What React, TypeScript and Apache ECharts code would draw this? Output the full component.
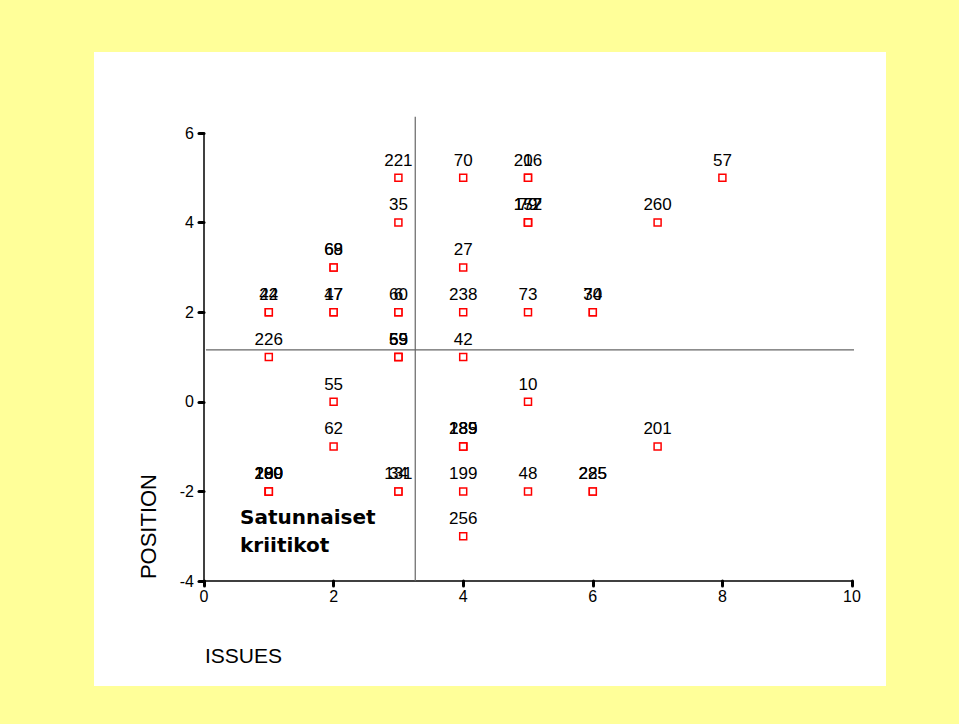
import React, { useEffect, useRef } from "react";
import * as echarts from "echarts";

const issues = [3, 4, 5, 5, 8, 3, 5, 5, 5, 7, 2, 2, 4, 1, 1, 2, 2, 3, 3, 4, 5, 6, 6, 1, 3, 3, 3, 4, 2, 5, 2, 4, 4, 4, 7, 1, 1, 1, 1, 3, 3, 4, 5, 6, 6, 4];
const positions = [5, 5, 5, 5, 5, 4, 4, 4, 4, 4, 3, 3, 3, 2, 2, 2, 2, 2, 2, 2, 2, 2, 2, 1, 1, 1, 1, 1, 0, 0, -1, -1, -1, -1, -1, -2, -2, -2, -2, -2, -2, -2, -2, -2, -2, -3];
const ids = [221, 70, 206, 1, 57, 35, 157, 172, 79, 260, 69, 68, 27, 42, 24, 47, 17, 60, 6, 238, 73, 74, 30, 226, 59, 55, 69, 42, 55, 10, 62, 185, 139, 289, 201, 280, 190, 209, 180, 131, 34, 199, 48, 225, 285, 256];

const xTicks = [0, 2, 4, 6, 8, 10];
const yTicks = [-4, -2, 0, 2, 4, 6];
const splitIssues = 3.26;
const splitPosition = 1.16;

const FONT = "'Liberation Sans', Arial, sans-serif";

export default function App() {
  const ref = useRef<HTMLDivElement>(null);
  useEffect(() => {
    if (!ref.current) return;
    const chart = echarts.init(ref.current, null, { renderer: "svg" });
    const data = issues.map((x, i) => [x, positions[i], ids[i]]);
    chart.setOption({
      animation: false,
      backgroundColor: "#FFFF99",
      textStyle: { fontFamily: FONT },
      grid: { left: 204, right: 107, top: 133, bottom: 143 },
      xAxis: {
        type: "value",
        min: xTicks[0],
        max: xTicks[xTicks.length - 1],
        interval: 2,
        splitLine: { show: false },
        axisLine: { onZero: false, lineStyle: { color: "#000", width: 1.5 } },
        axisTick: { length: 5, lineStyle: { color: "#000", width: 3, cap: "round" } },
        axisLabel: { color: "#000", fontSize: 16, margin: 7, fontFamily: FONT },
      },
      yAxis: {
        type: "value",
        min: yTicks[0],
        max: yTicks[yTicks.length - 1],
        interval: 2,
        splitLine: { show: false },
        axisLine: { onZero: false, lineStyle: { color: "#000", width: 1.5 } },
        axisTick: { length: 5, lineStyle: { color: "#000", width: 3, cap: "round" } },
        axisLabel: { color: "#000", fontSize: 16, margin: 10, fontFamily: FONT },
      },
      graphic: [
        { type: "rect", z: -10, shape: { x: 94, y: 52, width: 792, height: 634 }, style: { fill: "#ffffff" } },
        {
          type: "text",
          left: 137,
          top: 474,
          rotation: Math.PI / 2,
          style: { text: "POSITION", fill: "#000", font: "22px " + FONT },
        },
        {
          type: "text",
          left: 205,
          top: 645,
          style: { text: "ISSUES", fill: "#000", font: "21px " + FONT },
        },
        {
          type: "text",
          left: 240,
          top: 503,
          style: { text: "Satunnaiset\nkriitikot", fill: "#000", font: "bold 20px 'DejaVu Sans', Verdana, sans-serif", lineHeight: 28 },
        },
      ],
      series: [
        {
          type: "line",
          data: [[splitIssues, -4], [splitIssues, 6.36]],
          symbol: "none",
          clip: false,
          lineStyle: { color: "#666", width: 1.2 },
          silent: true,
        },
        {
          type: "line",
          data: [[0.03, splitPosition], [10.15, splitPosition]],
          symbol: "none",
          clip: false,
          lineStyle: { color: "#666", width: 1.2 },
          silent: true,
        },
        {
          type: "scatter",
          data,
          symbol: "rect",
          symbolSize: 7,
          itemStyle: { color: "#ffffff", borderColor: "#ff0000", borderWidth: 1.5, opacity: 1 },
          label: {
            show: true,
            position: "top",
            distance: 5,
            color: "#000",
            textBorderWidth: 0,
            fontSize: 17,
            fontFamily: FONT,
            formatter: (p: any) => String(p.value[2]),
          },
        },
      ],
    });
    return () => chart.dispose();
  }, []);
  return <div ref={ref} style={{ position: "absolute", left: 0, top: 0, width: 959, height: 724 }} />;
}
